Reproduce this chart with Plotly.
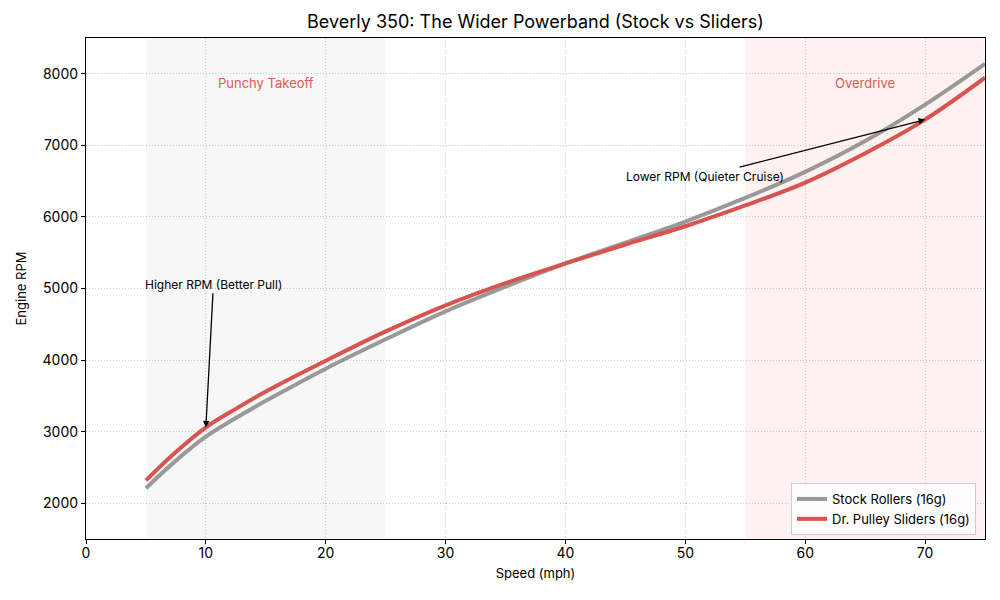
import plotly.graph_objects as go

speed = [5, 7.5, 10, 12.5, 15, 20, 25, 30, 35, 40, 45, 50, 55, 60, 65, 70, 75]
stock_rpm = [2210, 2595, 2930, 3190, 3430, 3880, 4290, 4680, 5025, 5350, 5640, 5935, 6265, 6630, 7060, 7570, 8140]
slider_rpm = [2320, 2715, 3060, 3318, 3560, 3990, 4400, 4765, 5075, 5350, 5615, 5870, 6160, 6480, 6890, 7360, 7945]

x_ticks = [0, 10, 20, 30, 40, 50, 60, 70]
y_ticks = [2000, 3000, 4000, 5000, 6000, 7000, 8000]

zones = [("Punchy Takeoff", 5, 25, "rgba(200,200,200,0.15)"),
         ("Overdrive", 55, 75, "rgba(230,80,80,0.08)")]

FONT = "Inter"
GRAY = "#999999"
RED = "#d9534f"

fig = go.Figure()

fig.add_trace(go.Scatter(x=speed, y=stock_rpm, mode="lines", name="Stock Rollers (16g)",
                         line=dict(color=GRAY, width=4, shape="spline", smoothing=1.0)))
fig.add_trace(go.Scatter(x=speed, y=slider_rpm, mode="lines", name="Dr. Pulley Sliders (16g)",
                         line=dict(color=RED, width=4, shape="spline", smoothing=1.0)))

for label, x0, x1, col in zones:
    fig.add_shape(type="rect", xref="x", yref="paper", x0=x0, x1=x1, y0=0, y1=1,
                  fillcolor=col, line=dict(width=0), layer="below")
    fig.add_annotation(x=(x0 + x1) / 2, y=7870, text=label, showarrow=False,
                       font=dict(family=FONT, size=13, color="#e05a56"))

fig.add_annotation(x=10, y=3060, ax=10.63, ay=5060, axref="x", ayref="y",
                   text="Higher RPM (Better Pull)", showarrow=True,
                   arrowhead=2, arrowsize=1, arrowwidth=1.3, arrowcolor="black",
                   font=dict(family=FONT, size=12, color="black"))
fig.add_annotation(x=70, y=7360, ax=51.6, ay=6570, axref="x", ayref="y",
                   text="Lower RPM (Quieter Cruise)", showarrow=True,
                   arrowhead=2, arrowsize=1, arrowwidth=1.3, arrowcolor="black",
                   font=dict(family=FONT, size=12, color="black"))

axis_common = dict(showline=True, linecolor="black", linewidth=1.2, mirror=True,
                   ticks="outside", ticklen=4, tickcolor="black",
                   showgrid=True, gridcolor="#c8c8c8", griddash="1px,2px", gridwidth=1,
                   zeroline=False, tickfont=dict(family=FONT, size=14, color="black"))

fig.update_layout(
    width=1000, height=600,
    paper_bgcolor="white", plot_bgcolor="white",
    margin=dict(l=78, r=23, t=30, b=69),
    title=dict(text="Beverly 350: The Wider Powerband (Stock vs Sliders)",
               x=(78 + 449.5) / 1000, xanchor="center", y=0.977, yanchor="middle",
               font=dict(family=FONT, size=18, color="black")),
    xaxis=dict(range=[0, 75], tickvals=x_ticks, ticklabelstandoff=-3,
               title=dict(text="Speed (mph)", font=dict(family=FONT, size=13, color="black"), standoff=8),
               **axis_common),
    yaxis=dict(range=[1500, 8500], tickvals=y_ticks,
               title=dict(text="Engine RPM", font=dict(family=FONT, size=13, color="black"), standoff=13),
               **axis_common),
    legend=dict(x=0.99, xanchor="right", y=0.008, yanchor="bottom",
                bgcolor="rgba(255,255,255,0.85)", bordercolor="#cccccc", borderwidth=1,
                font=dict(family=FONT, size=13, color="black")),
    showlegend=True,
)

fig.write_html("out.html")
